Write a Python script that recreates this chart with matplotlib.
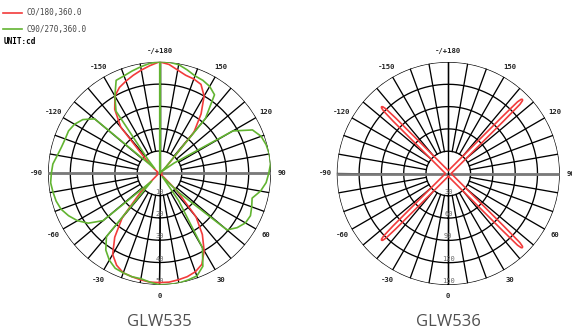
import numpy as np
import matplotlib
matplotlib.use("Agg")
from matplotlib import pyplot as plt
from matplotlib.lines import Line2D

# ---------------------------------------------------------------
# Data (candela values)
# ---------------------------------------------------------------
gamma_535 = list(range(0, 181, 5))

# GLW535, C0 (right half) and C180 (left half)
c0_535 = [49, 49, 48.5, 48, 47, 45, 40, 33.5, 25.5, 11, 1.5, 1, 1, 1, 1, 1, 1, 1, 1,
          1, 1, 1, 1, 1, 1, 1, 2.5, 5, 24, 32.5, 40, 44, 45, 45.5, 47, 49, 50]
c180_535 = [49, 49, 48.5, 48, 47.5, 45.5, 42, 35, 26, 12, 2, 1, 1, 1, 1, 1, 1, 1, 1,
            1, 1, 1, 1, 1, 1, 1, 3, 8, 27, 35, 40, 42.5, 44, 45.5, 47, 48.5, 50]
# GLW535, C90 (right half) and C270 (left half)
c90_535 = [50, 50, 50, 49.5, 49, 46, 38.5, 15, 2, 12, 39.5, 42.5, 44.5, 45, 44, 43, 46, 48, 49,
           50, 50, 49.5, 48.5, 46, 38, 8, 1, 4, 32, 43, 45, 46, 46.5, 48, 49.5, 50, 50]
c270_535 = [50, 49, 48, 48, 47.5, 47, 45, 42, 37, 5, 33, 39, 42.5, 45, 47, 48, 48.5, 49, 48.5,
            48, 46.5, 45.5, 45, 45, 44, 42, 38, 3, 8, 34, 40, 46, 46.5, 47.5, 48.5, 49.5, 50]

# GLW536: four narrow beams at +/-45 and +/-135 degrees
gamma_536 = [0, 15, 25, 35, 39, 41, 42, 43, 43.5, 44, 44.5, 45, 45.5, 46, 46.5, 47, 48, 49,
             51, 55, 65, 75, 90, 105, 115, 125, 129, 131, 132, 133, 133.5, 134, 134.5, 135,
             135.5, 136, 136.5, 137, 138, 139, 141, 145, 155, 165, 180]
c0_536 = [3.8, 5.4, 7.9, 15.5, 26, 39, 52, 77, 103, 134, 140, 141, 140, 134, 103, 77, 52, 39,
          26, 15.5, 7.9, 5.4, 3.8, 5.4, 7.9, 15.5, 26, 39, 52, 77, 103, 134, 140, 141,
          140, 134, 103, 77, 52, 39, 26, 15.5, 7.9, 5.4, 3.8]
c180_536 = [3.8, 5.4, 7.9, 15.5, 26, 39, 52, 77, 103, 121, 126, 127, 126, 121, 103, 77, 52, 39,
            26, 15.5, 7.9, 5.4, 3.8, 5.4, 7.9, 15.5, 26, 39, 52, 77, 103, 121, 126, 127,
            126, 121, 103, 77, 52, 39, 26, 15.5, 7.9, 5.4, 3.8]
c90_536 = [0] * len(gamma_536)
c270_536 = [0] * len(gamma_536)

ring_labels_535 = ["10", "20", "30", "40", "50"]
ring_labels_536 = ["30", "60", "90", "120", "150"]
angle_ticks = [0, 30, 60, 90, 120, 150, 180, -150, -120, -90, -60, -30]
angle_labels = ["0", "30", "60", "90", "120", "150", "-/+180",
                "-150", "-120", "-90", "-60", "-30"]
titles = ["GLW535", "GLW536"]
legend_labels = ["C0/180,360.0", "C90/270,360.0"]

RED = "#f23b3b"
GREEN = "#62b431"
MONO = "DejaVu Sans Mono"

W, H = 572, 331
fig = plt.figure(figsize=(W / 100, H / 100), dpi=100)


def polar_panel(cx, cy, R, rmax, ring_labels, gamma, cA, cB, cC, cD, title, green_stem):
    """Draw one photometric polar diagram centred at pixel (cx, cy)."""
    ax = fig.add_axes([(cx - R) / W, (H - cy - R) / H, 2 * R / W, 2 * R / H],
                      projection="polar")
    ax.set_theta_zero_location("S")
    ax.set_theta_direction(1)
    ax.set_ylim(0, rmax)
    ax.grid(False)
    ax.set_xticks([])
    ax.set_yticks([])
    ax.spines["polar"].set_visible(False)
    ax.patch.set_alpha(0)

    # grid: 5 rings, radial spokes every 10 deg outside the inner ring
    t = np.linspace(0, 2 * np.pi, 721)
    for k in range(1, 6):
        ax.plot(t, np.full_like(t, rmax * k / 5), color="black", lw=0.95, zorder=1)
    for a in range(0, 360, 10):
        ax.plot([np.radians(a)] * 2, [rmax / 5, rmax], color="black", lw=0.95, zorder=1)
    ax.plot([np.pi / 2] * 2, [0, rmax], color="#7a7a7a", lw=2.0, zorder=1.5)
    ax.plot([-np.pi / 2] * 2, [0, rmax], color="#7a7a7a", lw=2.0, zorder=1.5)
    ax.plot([0, 0], [0, rmax], color="black", lw=0.95, zorder=1.5)
    ax.plot([np.pi] * 2, [0, rmax], color="black", lw=0.95, zorder=1.5)

    # ring values along the 0 deg axis
    for k, lab in enumerate(ring_labels, start=1):
        ax.text(0, rmax * (k / 5 - 0.035), lab, ha="center", va="center",
                fontsize=5, color="#6a6a6a", family=MONO, zorder=2)

    # angle labels
    for a, lab in zip(angle_ticks, angle_labels):
        ax.text(np.radians(a), rmax * 1.1, lab, ha="center", va="center",
                fontsize=5.2, color="#222222", family=MONO, fontweight="bold")

    g = np.radians(gamma)
    # red: C0 right side, C180 left side
    th = np.concatenate([g, -g[::-1]])
    ax.plot(th, np.concatenate([cA, cB[::-1]]), color=RED, lw=1.2, zorder=3)
    # green: C90 right side, C270 left side
    ax.plot(th, np.concatenate([cC, cD[::-1]]), color=GREEN, lw=1.2, zorder=3,
            solid_capstyle="round")
    if green_stem:
        ax.plot([np.pi, np.pi], [0, cC[-1]], color=GREEN, lw=1.6, zorder=3)

    ax.text(0, rmax * 1.33, title, ha="center", va="center", fontsize=12,
            color="#505050", family="Open Sans")
    return ax


polar_panel(159.5, 173.3, 111.5, 50, ring_labels_535, gamma_535,
            np.array(c0_535), np.array(c180_535), np.array(c90_535), np.array(c270_535),
            titles[0], True)
polar_panel(448.3, 173.5, 111.5, 150, ring_labels_536, gamma_536,
            np.array(c0_536), np.array(c180_536), np.array(c90_536), np.array(c270_536),
            titles[1], False)

# legend block in the top-left corner
handles = [Line2D([], [], color=RED, lw=1.2), Line2D([], [], color=GREEN, lw=1.2)]
fig.legend(handles, legend_labels, loc="upper left", bbox_to_anchor=(0.006, 0.975),
           frameon=False, borderpad=0, borderaxespad=0, handlelength=2.4,
           handletextpad=0.6, labelspacing=0.95,
           prop={"family": MONO, "size": 5.5}, labelcolor="#444444")
fig.text(0.007, 1 - 41 / H, "UNIT:cd", ha="left", va="center", fontsize=5.5,
         family=MONO, fontweight="bold", color="black")

fig.savefig("out.png", dpi=100)
